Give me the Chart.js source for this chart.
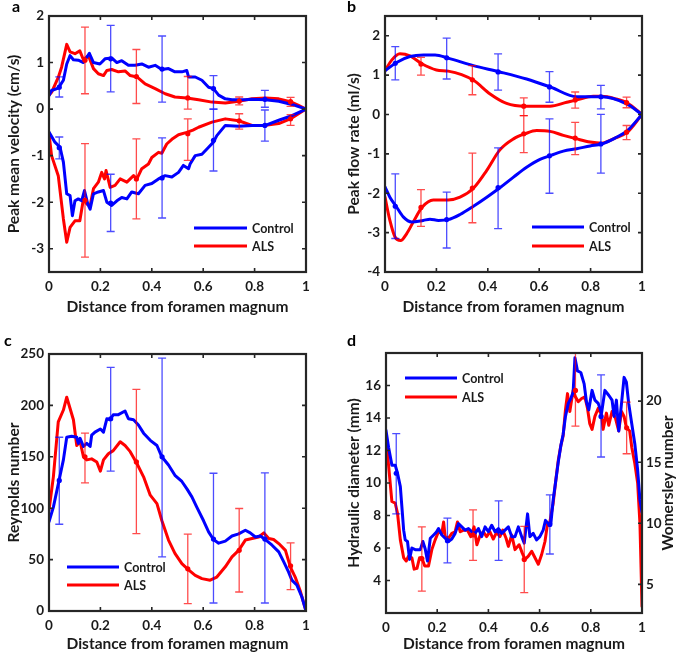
<!DOCTYPE html>
<html>
<head>
<meta charset="utf-8">
<script src="https://cdn.jsdelivr.net/npm/chart.js@4.4.1/dist/chart.umd.min.js"></script>
<style>
  html, body { margin: 0; padding: 0; background: #fff; }
  #fig { position: relative; width: 685px; height: 656px; overflow: hidden; }
  #fig canvas { position: absolute; }
  .tag { position: absolute; font: bold 16px Lato, sans-serif; line-height: 16px; color: #000; }
</style>
</head>
<body>
<div id="fig">
  <canvas id="pa" width="342" height="322" style="left:0;top:0"></canvas>
  <canvas id="pb" width="343" height="322" style="left:342px;top:0"></canvas>
  <canvas id="pc" width="342" height="326" style="left:0;top:330px"></canvas>
  <canvas id="pd" width="343" height="326" style="left:342px;top:330px"></canvas>
  <div class="tag" style="left:12px;top:-2px">a</div>
  <div class="tag" style="left:347px;top:-2px">b</div>
  <div class="tag" style="left:4px;top:332px">c</div>
  <div class="tag" style="left:347px;top:332px">d</div>
</div>
<script>
// shared x axis
const xTicks = [0, 0.2, 0.4, 0.6, 0.8, 1];
const xTitle = 'Distance from foramen magnum';

// --- a: peak mean velocity (cm/s) ---
const aYTicks = [-3, -2, -1, 0, 1, 2];
const aCtrlPos = [[0,0.29],[0.01,0.4],[0.036,0.45],[0.056,0.62],[0.069,0.97],[0.082,1.15],[0.095,1.06],[0.114,1.05],[0.134,1.0],[0.157,1.2],[0.173,1.0],[0.198,0.97],[0.218,1.08],[0.244,1.1],[0.264,1.0],[0.283,1.04],[0.309,0.94],[0.335,0.94],[0.361,0.97],[0.387,0.9],[0.413,0.94],[0.439,0.85],[0.465,0.87],[0.49,0.8],[0.517,0.8],[0.536,0.83],[0.543,0.69],[0.569,0.69],[0.595,0.62],[0.621,0.47],[0.64,0.44],[0.66,0.3],[0.686,0.22],[0.712,0.2],[0.738,0.2],[0.764,0.2],[0.79,0.21],[0.842,0.2],[0.894,0.17],[0.945,0.1],[1,0.0]];
const aAlsPos = [[0,0.3],[0.01,0.36],[0.036,0.68],[0.049,0.9],[0.069,1.39],[0.082,1.23],[0.101,1.19],[0.12,1.25],[0.134,1.06],[0.153,1.15],[0.173,0.87],[0.192,0.76],[0.212,0.72],[0.225,0.83],[0.244,0.85],[0.27,0.8],[0.296,0.82],[0.316,0.72],[0.342,0.69],[0.374,0.54],[0.413,0.44],[0.452,0.33],[0.49,0.26],[0.536,0.24],[0.582,0.2],[0.634,0.15],[0.686,0.13],[0.738,0.17],[0.79,0.22],[0.842,0.24],[0.894,0.22],[0.939,0.16],[0.971,0.08],[1,0.0]];
const aCtrlNeg = [[0,-0.49],[0.023,-0.71],[0.043,-0.82],[0.056,-1.14],[0.069,-1.82],[0.082,-1.86],[0.091,-2.29],[0.101,-1.97],[0.114,-1.93],[0.127,-1.97],[0.138,-1.75],[0.151,-2.04],[0.16,-2.15],[0.173,-1.82],[0.192,-1.78],[0.212,-1.75],[0.225,-2.0],[0.244,-2.07],[0.264,-1.97],[0.283,-1.9],[0.303,-1.93],[0.322,-1.78],[0.348,-1.82],[0.374,-1.64],[0.4,-1.6],[0.426,-1.5],[0.452,-1.43],[0.478,-1.46],[0.504,-1.36],[0.523,-1.21],[0.543,-1.28],[0.549,-1.18],[0.569,-1.0],[0.595,-0.97],[0.621,-0.82],[0.64,-0.71],[0.653,-0.57],[0.686,-0.35],[0.738,-0.37],[0.79,-0.35],[0.842,-0.35],[0.894,-0.24],[0.945,-0.14],[1,0.0]];
const aAlsNeg = [[0,-0.53],[0.01,-1.0],[0.036,-1.43],[0.056,-2.36],[0.069,-2.86],[0.082,-2.54],[0.101,-2.4],[0.12,-2.4],[0.134,-1.93],[0.147,-2.04],[0.16,-2.07],[0.173,-1.71],[0.192,-1.57],[0.205,-1.36],[0.216,-1.5],[0.222,-1.32],[0.238,-1.68],[0.257,-1.64],[0.277,-1.5],[0.303,-1.57],[0.329,-1.43],[0.342,-1.5],[0.361,-1.28],[0.387,-1.18],[0.4,-1.04],[0.426,-0.93],[0.439,-0.95],[0.458,-0.75],[0.478,-0.65],[0.504,-0.55],[0.536,-0.5],[0.56,-0.45],[0.582,-0.39],[0.634,-0.28],[0.686,-0.21],[0.738,-0.25],[0.79,-0.35],[0.842,-0.35],[0.894,-0.31],[0.939,-0.21],[0.971,-0.1],[1,0.0]];
// error bars: [x, marker, low, high]
const aCtrlPosErr = [[0.04,0.47,0.26,0.69],[0.24,1.08,0.37,1.8],[0.44,0.86,0.15,1.57],[0.64,0.44,0.0,0.72],[0.84,0.21,0.04,0.4]];
const aCtrlNegErr = [[0.04,-0.83,-1.07,-0.6],[0.24,-2.02,-2.63,-1.4],[0.44,-1.48,-2.34,-0.62],[0.64,-0.67,-1.33,0.0],[0.84,-0.35,-0.69,-0.02]];
const aAlsPosErr = [[0.14,1.05,0.33,1.76],[0.34,0.7,0.12,1.28],[0.54,0.24,0.0,0.7],[0.74,0.17,0.09,0.26],[0.94,0.16,0.06,0.25]];
const aAlsNegErr = [[0.14,-1.96,-3.18,-0.74],[0.34,-1.5,-2.36,-0.64],[0.54,-0.53,-1.1,-0.21],[0.74,-0.25,-0.43,-0.1],[0.94,-0.21,-0.35,-0.12]];

// --- b: peak flow rate (ml/s) ---
const bYTicks = [-4, -3, -2, -1, 0, 1, 2];
const bCtrlPos = [[0,1.11],[0.045,1.32],[0.097,1.47],[0.15,1.51],[0.195,1.51],[0.246,1.43],[0.344,1.24],[0.447,1.08],[0.551,0.9],[0.646,0.69],[0.746,0.45],[0.843,0.45],[0.94,0.27],[1,0]];
const bAlsPos = [[0,1.11],[0.026,1.38],[0.058,1.54],[0.097,1.49],[0.145,1.28],[0.2,1.13],[0.246,1.1],[0.298,1.01],[0.346,0.86],[0.409,0.52],[0.473,0.28],[0.545,0.21],[0.642,0.21],[0.707,0.31],[0.746,0.37],[0.81,0.46],[0.843,0.46],[0.895,0.4],[0.943,0.29],[1,0]];
const bCtrlNeg = [[0,-1.84],[0.019,-2.1],[0.045,-2.35],[0.071,-2.6],[0.104,-2.73],[0.149,-2.69],[0.175,-2.66],[0.208,-2.69],[0.246,-2.67],[0.292,-2.54],[0.344,-2.33],[0.396,-2.1],[0.447,-1.86],[0.5,-1.59],[0.551,-1.34],[0.603,-1.14],[0.646,-1.04],[0.694,-0.93],[0.746,-0.87],[0.798,-0.8],[0.843,-0.75],[0.895,-0.6],[0.943,-0.41],[1,0]];
const bAlsNeg = [[0,-2.1],[0.019,-2.69],[0.039,-3.11],[0.061,-3.2],[0.084,-3.03],[0.11,-2.73],[0.145,-2.35],[0.188,-2.17],[0.246,-2.17],[0.292,-2.1],[0.346,-1.86],[0.396,-1.42],[0.447,-0.9],[0.5,-0.62],[0.545,-0.49],[0.59,-0.41],[0.642,-0.43],[0.694,-0.53],[0.746,-0.62],[0.798,-0.7],[0.843,-0.73],[0.895,-0.6],[0.943,-0.45],[1,0]];
const bCtrlPosErr = [[0.04,1.3,0.88,1.72],[0.24,1.44,0.9,1.94],[0.44,1.08,0.62,1.54],[0.64,0.7,0.31,1.09],[0.84,0.45,0.14,0.74]];
const bCtrlNegErr = [[0.04,-2.33,-3.15,-1.51],[0.24,-2.67,-3.39,-1.97],[0.44,-1.86,-2.9,-0.85],[0.64,-1.05,-2.0,-0.11],[0.84,-0.75,-1.49,0.0]];
const bAlsPosErr = [[0.14,1.28,1.0,1.45],[0.34,0.88,0.5,1.24],[0.54,0.21,-0.03,0.42],[0.74,0.37,0.16,0.57],[0.94,0.3,0.17,0.44]];
const bAlsNegErr = [[0.14,-2.36,-2.84,-1.91],[0.34,-1.87,-2.75,-0.98],[0.54,-0.49,-0.97,-0.03],[0.74,-0.6,-1.02,-0.2],[0.94,-0.45,-0.64,-0.28]];

// --- c: Reynolds number ---
const cYTicks = [0, 50, 100, 150, 200, 250];
const cCtrl = [[0,86.7],[0.017,101],[0.039,127],[0.056,147],[0.069,169],[0.088,170],[0.108,169],[0.114,163],[0.121,168],[0.134,160],[0.147,163],[0.16,160],[0.166,171],[0.179,174],[0.2,177],[0.212,174],[0.225,187],[0.238,186],[0.25,191],[0.27,191],[0.296,194.5],[0.309,187],[0.329,186],[0.348,181],[0.368,173],[0.394,166],[0.42,161],[0.439,150],[0.465,142],[0.49,132],[0.517,126],[0.536,119],[0.556,111],[0.575,101],[0.601,88],[0.621,77],[0.64,69.5],[0.66,66],[0.686,68],[0.712,73],[0.738,75],[0.764,78.6],[0.783,76],[0.803,72],[0.822,73],[0.842,69.5],[0.868,64],[0.894,57.5],[0.913,48],[0.932,38],[0.945,30],[0.965,25],[0.984,13.6],[1,0]];
const cAls = [[0,98],[0.017,130.5],[0.036,184],[0.056,195.5],[0.069,208],[0.082,197],[0.095,186],[0.108,161],[0.121,165],[0.134,150],[0.147,147],[0.166,148],[0.186,145],[0.2,136],[0.212,147],[0.231,153],[0.25,156],[0.277,164.6],[0.296,161],[0.316,155],[0.342,143.5],[0.368,130.5],[0.394,112.7],[0.42,104.5],[0.439,88],[0.465,69],[0.49,56],[0.517,46],[0.543,40],[0.569,34.7],[0.595,31.5],[0.627,30],[0.653,33],[0.686,43],[0.712,52.6],[0.738,59],[0.764,69],[0.79,70.5],[0.816,72],[0.836,76],[0.855,70.5],[0.874,69.5],[0.894,65.6],[0.92,59],[0.939,43],[0.958,33],[0.977,20],[1,0]];
const cCtrlErr = [[0.04,127,84.4,169],[0.24,187,136,237],[0.44,150,52.6,246],[0.64,70,7.8,134],[0.84,70,7.8,134.4]];
const cAlsErr = [[0.14,150,124.7,173],[0.34,145,75.3,215.6],[0.54,41,7.1,74.7],[0.74,59,18.5,99.7],[0.94,44,20.8,66.2]];

// --- d: hydraulic diameter (mm) / Womersley number ---
const dYTicks = [4, 6, 8, 10, 12, 14, 16];
const dWoTicks = [5, 10, 15, 20];
const dCtrl = [[0,13.24],[0.01,12.2],[0.023,11.1],[0.036,11.1],[0.045,10.6],[0.056,9.78],[0.062,8.55],[0.069,7.1],[0.075,6.5],[0.084,6.4],[0.092,5.3],[0.101,6.0],[0.114,5.9],[0.134,5.9],[0.144,6.4],[0.153,5.95],[0.162,5.2],[0.173,6.6],[0.186,6.8],[0.196,6.96],[0.205,7.2],[0.218,6.8],[0.231,6.6],[0.244,6.4],[0.257,6.55],[0.27,6.9],[0.283,7.5],[0.296,7.3],[0.309,7.1],[0.322,7.2],[0.335,7.0],[0.348,6.9],[0.361,7.2],[0.374,6.7],[0.387,7.3],[0.4,7.0],[0.413,7.4],[0.426,7.0],[0.439,7.2],[0.452,6.9],[0.465,7.1],[0.478,7.3],[0.491,6.7],[0.504,6.7],[0.517,7.3],[0.53,6.7],[0.54,6.3],[0.553,8.1],[0.562,6.7],[0.575,6.9],[0.588,6.5],[0.601,6.7],[0.614,7.1],[0.623,7.7],[0.634,7.5],[0.644,7.5],[0.653,8.96],[0.662,10.0],[0.673,11.3],[0.683,12.3],[0.692,13.0],[0.701,14.1],[0.712,14.9],[0.722,15.2],[0.731,15.6],[0.738,17.7],[0.748,16.9],[0.761,16.8],[0.774,16.1],[0.783,15.0],[0.792,14.5],[0.805,15.7],[0.816,15.1],[0.829,14.9],[0.842,14.3],[0.855,15.7],[0.87,15.4],[0.883,15.1],[0.891,14.1],[0.9,15.1],[0.909,13.2],[0.92,14.9],[0.93,16.5],[0.939,16.2],[0.948,14.9],[0.96,13.65],[0.972,12.4],[0.983,10.8],[0.992,8.96],[1,8.2]];
const dAls = [[0,12.8],[0.01,11.1],[0.023,8.86],[0.036,8.76],[0.045,8.14],[0.056,6.5],[0.069,5.4],[0.079,5.2],[0.088,5.5],[0.101,5.4],[0.11,4.7],[0.121,4.75],[0.131,5.4],[0.14,5.4],[0.151,4.9],[0.166,4.9],[0.179,5.9],[0.192,6.5],[0.205,7.0],[0.218,6.9],[0.225,7.6],[0.231,6.7],[0.244,6.6],[0.257,6.9],[0.27,7.0],[0.279,7.6],[0.29,7.0],[0.303,7.1],[0.318,7.1],[0.331,6.7],[0.344,7.3],[0.355,6.2],[0.368,6.8],[0.38,7.0],[0.393,6.7],[0.406,7.0],[0.419,6.55],[0.432,6.96],[0.445,6.7],[0.456,7.1],[0.469,6.6],[0.478,6.1],[0.491,6.8],[0.504,5.9],[0.52,6.2],[0.532,5.7],[0.543,5.3],[0.556,5.5],[0.569,5.8],[0.582,5.4],[0.595,5.0],[0.608,5.6],[0.621,6.4],[0.631,7.5],[0.64,7.6],[0.653,8.76],[0.662,10.0],[0.673,11.4],[0.683,12.3],[0.692,12.9],[0.701,14.5],[0.709,15.5],[0.718,14.4],[0.731,15.7],[0.74,15.3],[0.751,15.0],[0.764,15.2],[0.777,15.3],[0.787,14.6],[0.796,13.65],[0.805,13.3],[0.816,14.1],[0.829,14.6],[0.842,14.2],[0.848,13.3],[0.861,14.3],[0.87,13.55],[0.883,14.4],[0.896,14.0],[0.909,13.2],[0.92,14.4],[0.93,14.1],[0.939,13.4],[0.952,13.2],[0.96,12.2],[0.972,11.2],[0.983,10.0],[0.992,7.5],[1,2.4]];
const dCtrlErr = [[0.04,10.6,8.1,13.04],[0.24,6.45,5.08,7.84],[0.44,7.05,5.24,8.9],[0.64,7.45,5.63,9.27],[0.84,14.1,11.6,16.65]];
const dAlsErr = [[0.14,5.35,3.35,7.3],[0.34,6.8,5.24,8.35],[0.54,5.3,3.25,7.33],[0.74,15.7,13.5,17.98],[0.94,13.4,11.8,14.98]];

const BLUE = '#0000ff';
const RED = '#ff0000';
const INK = '#1a1a1a';
const FONT = "Lato, 'Open Sans', sans-serif";

Chart.defaults.font.family = FONT;
Chart.defaults.color = INK;
Chart.defaults.animation = false;

// box, inward ticks, error bars and legend like the MATLAB original
const matlabFrame = {
  id: 'matlabFrame',
  afterDatasetsDraw(chart, args, opts) {
    const { ctx, scales } = chart;
    (opts.bars || []).forEach((set) => {
      ctx.save();
      ctx.strokeStyle = set.color;
      ctx.globalAlpha = 0.7;
      ctx.lineWidth = 1.3;
      set.data.forEach(([x, mid, lo, hi]) => {
        const px = scales.x.getPixelForValue(x);
        const yl = scales.y.getPixelForValue(lo);
        const yh = scales.y.getPixelForValue(hi);
        ctx.beginPath();
        ctx.moveTo(px, yl); ctx.lineTo(px, yh);
        ctx.moveTo(px - 4, yl); ctx.lineTo(px + 4, yl);
        ctx.moveTo(px - 4, yh); ctx.lineTo(px + 4, yh);
        ctx.stroke();
      });
      ctx.globalAlpha = 1;
      ctx.fillStyle = set.color;
      set.data.forEach(([x, mid]) => {
        ctx.beginPath();
        ctx.arc(scales.x.getPixelForValue(x), scales.y.getPixelForValue(mid), 2.6, 0, Math.PI * 2);
        ctx.fill();
      });
      ctx.restore();
    });
  },
  afterDraw(chart, args, opts) {
    const { ctx, chartArea: a, scales } = chart;
    ctx.save();
    ctx.strokeStyle = '#262626';
    ctx.lineWidth = 1.6;
    const tl = 4;
    ctx.beginPath();
    scales.x.ticks.forEach((t) => {
      const px = scales.x.getPixelForValue(t.value);
      ctx.moveTo(px, a.bottom); ctx.lineTo(px, a.bottom - tl);
      ctx.moveTo(px, a.top); ctx.lineTo(px, a.top + tl);
    });
    scales.y.ticks.forEach((t) => {
      const py = scales.y.getPixelForValue(t.value);
      ctx.moveTo(a.left, py); ctx.lineTo(a.left + tl, py);
      if (!scales.y1) { ctx.moveTo(a.right, py); ctx.lineTo(a.right - tl, py); }
    });
    if (scales.y1) {
      scales.y1.ticks.forEach((t) => {
        const py = scales.y1.getPixelForValue(t.value);
        ctx.moveTo(a.right, py); ctx.lineTo(a.right - tl, py);
      });
    }
    ctx.stroke();
    ctx.lineWidth = 2.2;
    ctx.strokeRect(a.left, a.top, a.right - a.left, a.bottom - a.top);

    const lg = opts.legend;
    if (lg) {
      ctx.font = `bold 12.5px ${FONT}`;
      ctx.textBaseline = 'middle';
      ctx.textAlign = 'left';
      ['Control', 'ALS'].forEach((name, i) => {
        const ds = chart.data.datasets.find((d) => d.label === name);
        const y = lg.y + i * lg.gap;
        ctx.strokeStyle = ds.borderColor;
        ctx.lineWidth = 3;
        ctx.beginPath();
        ctx.moveTo(lg.x, y); ctx.lineTo(lg.x + lg.len, y);
        ctx.stroke();
        ctx.fillStyle = INK;
        ctx.fillText(name, lg.x + lg.len + 5, y + 1);
      });
    }

    const rt = opts.rightTitle;
    if (rt) {
      ctx.translate(rt.x, rt.y);
      ctx.rotate(-Math.PI / 2);
      ctx.font = `bold 15.5px ${FONT}`;
      ctx.textAlign = 'center';
      ctx.textBaseline = 'middle';
      ctx.fillStyle = INK;
      ctx.fillText(rt.text, 0, 0);
    }
    ctx.restore();
  }
};

const lineSet = (data, color, label, smooth) => ({
  label,
  data,
  borderColor: color,
  backgroundColor: color,
  borderWidth: 3,
  pointRadius: 0,
  borderJoinStyle: 'round',
  borderCapStyle: 'round',
  cubicInterpolationMode: smooth ? 'monotone' : 'default',
  tension: 0
});

const fixTicks = (values) => (scale) => {
  scale.ticks = values.map((v) => ({ value: v }));
};

const makePanel = (id, p) => {
  const canvas = document.getElementById(id);
  const w = canvas.width;
  const h = canvas.height;
  const scales = {
    x: {
      type: 'linear',
      min: 0,
      max: 1,
      afterBuildTicks: fixTicks(xTicks),
      afterFit: (s) => { s.height = h - p.area.b; },
      grid: { display: false, drawTicks: false },
      border: { display: false },
      ticks: { padding: 7, maxRotation: 0, autoSkip: false, font: { size: 13.5, weight: 'bold' }, callback: (v) => String(v) },
      title: { display: true, text: xTitle, font: { size: 15.5, weight: 'bold' }, padding: { top: 0, bottom: p.xTitlePad } }
    },
    y: {
      type: 'linear',
      position: 'left',
      min: p.yMin,
      max: p.yMax,
      afterBuildTicks: fixTicks(p.yTicks),
      afterFit: (s) => { s.width = p.area.l; },
      grid: { display: false, drawTicks: false },
      border: { display: false },
      ticks: { padding: 5, font: { size: 13.5, weight: 'bold' } },
      title: { display: true, text: p.yTitle, font: { size: 15.5, weight: 'bold' }, padding: { top: p.yTitlePad, bottom: 0 } }
    }
  };
  if (p.right) {
    scales.y1 = {
      type: 'linear',
      position: 'right',
      display: true,
      min: p.right.min,
      max: p.right.max,
      afterBuildTicks: fixTicks(p.right.ticks),
      afterFit: (s) => { s.width = w - p.area.r; },
      grid: { display: false, drawTicks: false },
      border: { display: false },
      ticks: { padding: 4, font: { size: 13.5, weight: 'bold' } }
    };
  }
  return new Chart(canvas, {
    type: 'line',
    data: { datasets: p.series },
    options: {
      responsive: false,
      animation: false,
      layout: { padding: { top: p.area.t, right: p.right ? 0 : w - p.area.r, left: 0, bottom: 0 } },
      scales,
      plugins: {
        legend: { display: false },
        tooltip: { enabled: false },
        matlabFrame: { bars: p.bars, legend: p.legend, rightTitle: p.rightTitle }
      }
    },
    plugins: [matlabFrame]
  });
};

makePanel('pa', {
  area: { l: 49, t: 16, r: 306, b: 272 },
  yMin: -3.5, yMax: 2, yTicks: aYTicks,
  yTitle: 'Peak mean velocity (cm/s)', yTitlePad: 5, xTitlePad: 6,
  series: [
    lineSet(aCtrlPos, BLUE, 'Control'),
    lineSet(aCtrlNeg, BLUE, ''),
    lineSet(aAlsPos, RED, 'ALS'),
    lineSet(aAlsNeg, RED, '')
  ],
  bars: [
    { color: BLUE, data: aCtrlPosErr }, { color: BLUE, data: aCtrlNegErr },
    { color: RED, data: aAlsPosErr }, { color: RED, data: aAlsNegErr }
  ],
  legend: { x: 194, y: 228, len: 53, gap: 18 }
});

makePanel('pb', {
  area: { l: 43, t: 16, r: 300, b: 272 },
  yMin: -4, yMax: 2.5, yTicks: bYTicks,
  yTitle: 'Peak flow rate (ml/s)', yTitlePad: 3, xTitlePad: 6,
  series: [
    lineSet(bCtrlPos, BLUE, 'Control', true),
    lineSet(bCtrlNeg, BLUE, '', true),
    lineSet(bAlsPos, RED, 'ALS', true),
    lineSet(bAlsNeg, RED, '', true)
  ],
  bars: [
    { color: BLUE, data: bCtrlPosErr }, { color: BLUE, data: bCtrlNegErr },
    { color: RED, data: bAlsPosErr }, { color: RED, data: bAlsNegErr }
  ],
  legend: { x: 190, y: 227, len: 52, gap: 19 }
});

makePanel('pc', {
  area: { l: 49, t: 24, r: 306, b: 281 },
  yMin: 0, yMax: 250, yTicks: cYTicks,
  yTitle: 'Reynolds number', yTitlePad: 4.5, xTitlePad: 3,
  series: [
    lineSet(cCtrl, BLUE, 'Control'),
    lineSet(cAls, RED, 'ALS')
  ],
  bars: [{ color: BLUE, data: cCtrlErr }, { color: RED, data: cAlsErr }],
  legend: { x: 67, y: 237, len: 52, gap: 18 }
});

makePanel('pd', {
  area: { l: 44, t: 23, r: 300, b: 283 },
  yMin: 2, yMax: 18, yTicks: dYTicks,
  yTitle: 'Hydraulic diameter (mm)', yTitlePad: 3, xTitlePad: 3,
  right: { min: 2.66, max: 23.94, ticks: dWoTicks },
  rightTitle: { text: 'Womersley number', x: 326, y: 153 },
  series: [
    lineSet(dCtrl, BLUE, 'Control'),
    lineSet(dAls, RED, 'ALS')
  ],
  bars: [{ color: BLUE, data: dCtrlErr }, { color: RED, data: dAlsErr }],
  legend: { x: 63, y: 48, len: 52, gap: 19 }
});
</script>
</body>
</html>
